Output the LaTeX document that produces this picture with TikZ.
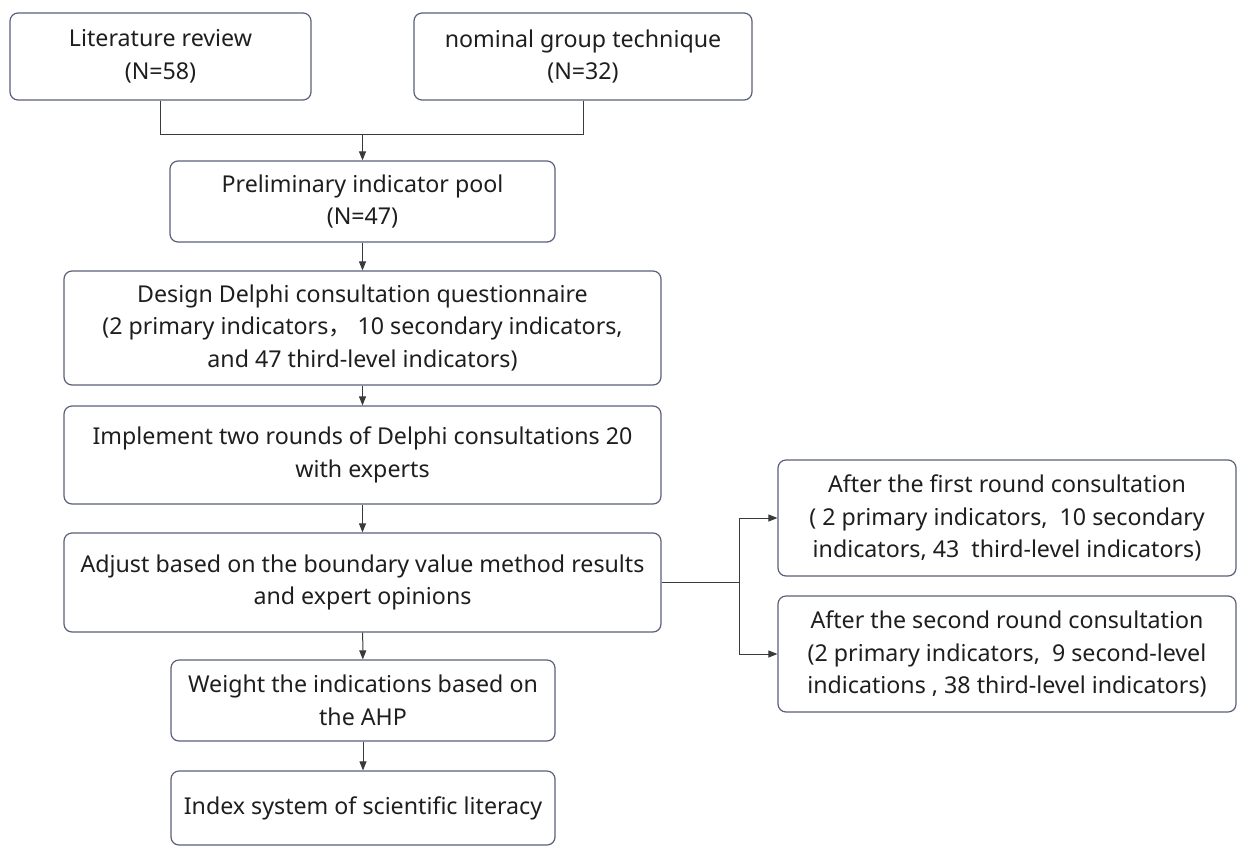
\documentclass[tikz,border=0pt]{standalone}
\usepackage{fontspec}
\setmainfont{Noto Sans}
\newfontfamily\cjk{Noto Sans CJK SC}
\usetikzlibrary{arrows.meta}
\definecolor{boxline}{HTML}{5A5F7A}
\definecolor{txt}{HTML}{1E1E1E}
\definecolor{conn}{HTML}{3A3A3A}
\begin{document}
\begin{tikzpicture}[x=1pt,y=1pt,
  stepbox/.style={draw=boxline, line width=1.2pt, rounded corners=8pt, align=center,
    text=txt, font=\fontsize{23.2}{32.5}\selectfont, inner sep=0pt},
  conline/.style={draw=conn, line width=1pt},
  arr/.style={conline, -{Triangle[length=9pt,width=7pt]}}]
\useasboundingbox (0,0) rectangle (1240,-847);
\node[stepbox, minimum width=301, minimum height=87] (lit) at (160.5,-56.5) {Literature review\\(N=58)};
\node[stepbox, minimum width=338, minimum height=87] (nom) at (583,-56.5) {nominal group technique\\(N=32)};
\node[stepbox, minimum width=385, minimum height=81] (pre) at (362.5,-201.5) {Preliminary indicator pool\\(N=47)};
\node[stepbox, minimum width=597, minimum height=114] (des) at (362.5,-328) {Design Delphi consultation questionnaire\\(2 primary indicators{\cjk ，}\ 10 secondary indicators,\\and 47 third-level indicators)};
\node[stepbox, minimum width=597, minimum height=98] (imp) at (362.5,-455) {Implement two rounds of Delphi consultations 20\\with experts};
\node[stepbox, minimum width=597, minimum height=99] (adj) at (362.5,-582.5) {Adjust based on the boundary value method results\\and expert opinions};
\node[stepbox, minimum width=384, minimum height=81] (wei) at (363,-700.5) {Weight the indications based on\\the AHP};
\node[stepbox, minimum width=384, minimum height=74] (idx) at (363,-808) {Index system of scientific literacy};
\node[stepbox, minimum width=458, minimum height=116] (r1) at (1007,-518) {After the first round consultation\\(\ 2 primary indicators,\ \ 10 secondary\\indicators, 43\ \ third-level indicators)};
\node[stepbox, minimum width=458, minimum height=116] (r2) at (1007,-654) {After the second round consultation\\(2 primary indicators,\ \ 9 second-level\\indications , 38 third-level indicators)};
\coordinate (j) at (362.5,-134);
\coordinate (b) at (739,-582.5);
\draw[conline] (lit.south) |- (j);
\draw[conline] (nom.south) |- (j);
\draw[arr] (j) -- (pre.north);
\draw[arr] (pre) -- (des);
\draw[arr] (des) -- (imp);
\draw[arr] (imp) -- (adj);
\draw[arr] (adj) -- (wei);
\draw[arr] (wei) -- (idx);
\draw[conline] (adj.east) -- (b);
\draw[arr] (b) |- (r1.west);
\draw[arr] (b) |- (r2.west);
\end{tikzpicture}
\end{document}
